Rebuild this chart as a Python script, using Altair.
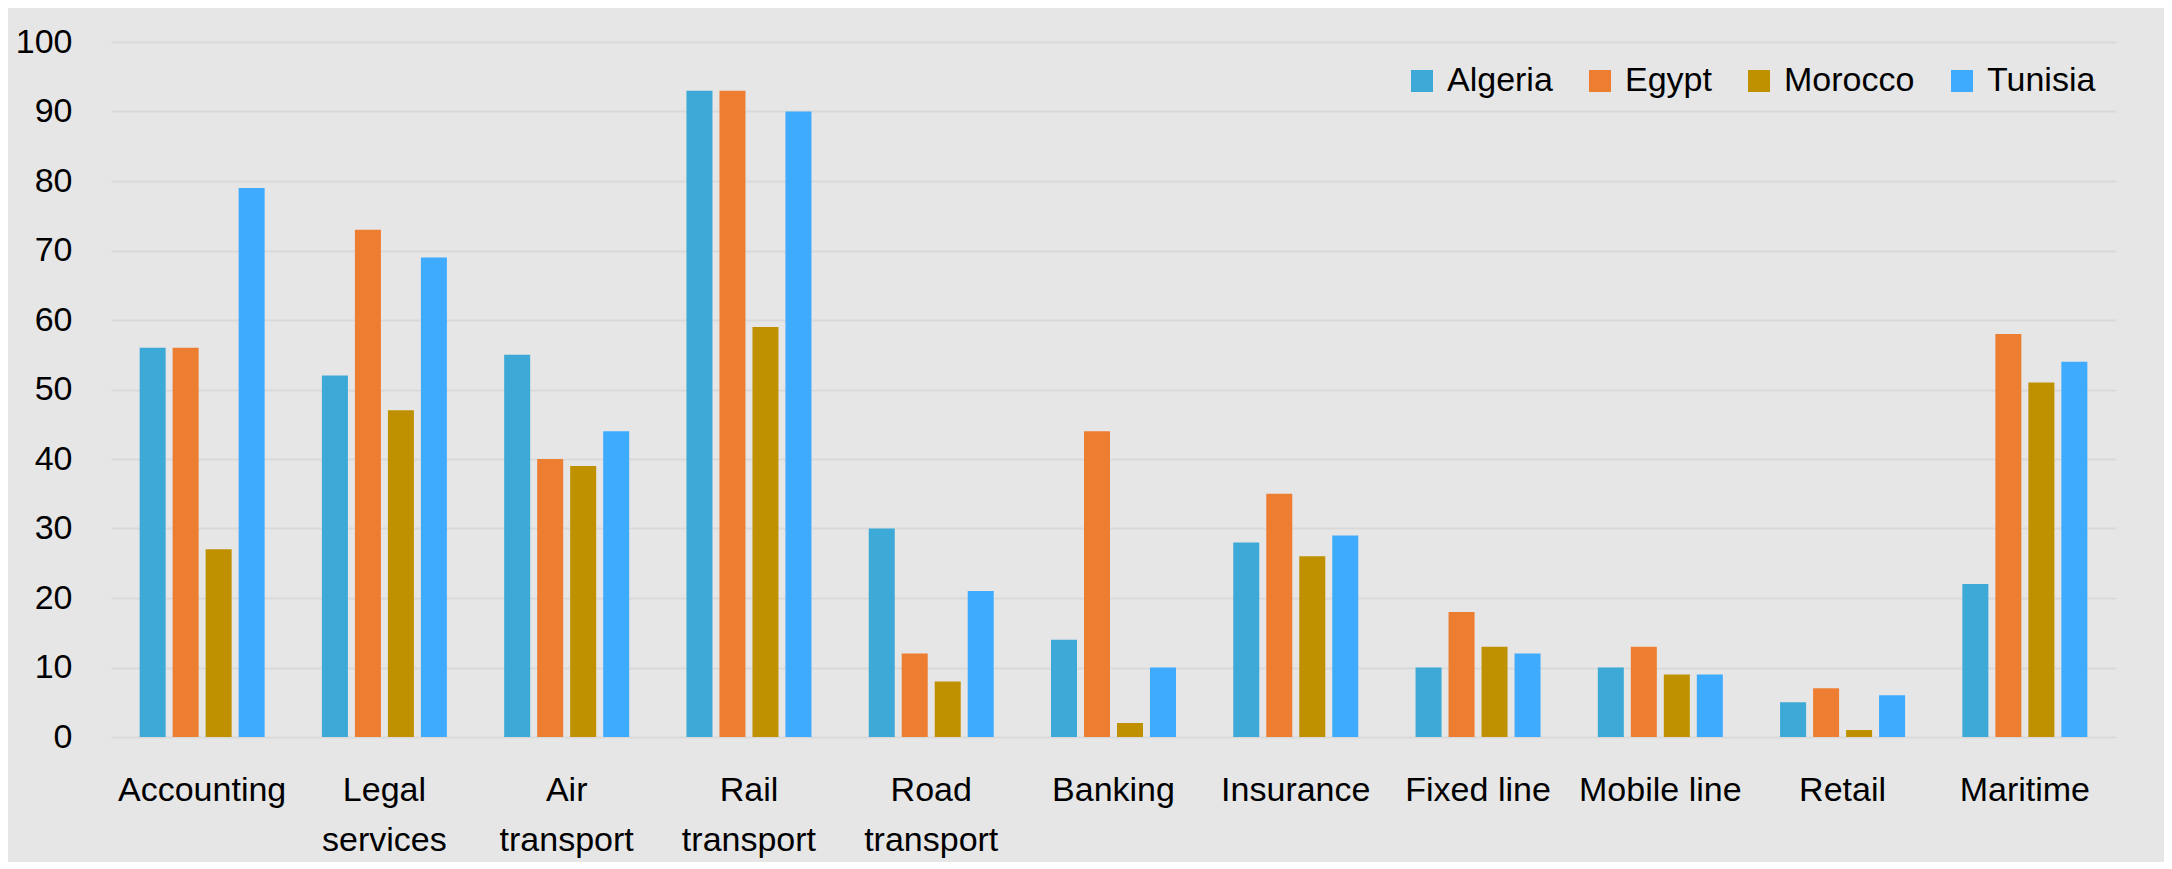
import altair as alt
import pandas as pd

categories = ["Accounting", "Legal services", "Air transport", "Rail transport",
              "Road transport", "Banking", "Insurance", "Fixed line",
              "Mobile line", "Retail", "Maritime"]
countries = ["Algeria", "Egypt", "Morocco", "Tunisia"]
algeria = [56, 52, 55, 93, 30, 14, 28, 10, 10, 5, 22]
egypt = [56, 73, 40, 93, 12, 44, 35, 18, 13, 7, 58]
morocco = [27, 47, 39, 59, 8, 2, 26, 13, 9, 1, 51]
tunisia = [79, 69, 44, 90, 21, 10, 29, 12, 9, 6, 54]
colors = ["#3ca9d7", "#ed7d31", "#bf9000", "#3fabff"]

rows = []
for name, vals in zip(countries, [algeria, egypt, morocco, tunisia]):
    for c, v in zip(categories, vals):
        rows.append({"Sector": c, "Country": name, "Value": v})
df = pd.DataFrame(rows)

FONT = "Liberation Sans"

chart = alt.Chart(df).mark_bar().encode(
    x=alt.X("Sector:N", sort=categories,
            scale=alt.Scale(paddingInner=0, paddingOuter=0),
            axis=alt.Axis(title=None, labelAngle=0, ticks=False, domain=False,
                          labelFontSize=34, labelFont=FONT, labelColor="#000000",
                          labelPadding=36, labelLineHeight=50, labelBaseline="top",
                          labelExpr="datum.value == 'Fixed line' || datum.value == 'Mobile line' ? datum.value : split(datum.value, ' ')")),
    xOffset=alt.XOffset("Country:N", sort=countries,
                        scale=alt.Scale(paddingInner=0.212, paddingOuter=0.868)),
    y=alt.Y("Value:Q", scale=alt.Scale(domain=[0, 100], nice=False),
            axis=alt.Axis(title=None, values=list(range(0, 101, 10)), ticks=False,
                          domain=False, labelFontSize=34, labelFont=FONT,
                          labelColor="#000000", labelPadding=39,
                          gridColor="#d9d9d9", gridWidth=2)),
    color=alt.Color("Country:N", sort=countries,
                    scale=alt.Scale(domain=countries, range=colors),
                    legend=alt.Legend(title=None, orient="none", direction="horizontal",
                                      columns=4, legendX=1294, legendY=22,
                                      symbolType="square", symbolSize=484,
                                      symbolStrokeWidth=0, labelFontSize=34,
                                      labelFont=FONT, labelColor="#000000",
                                      labelOffset=8, columnPadding=30)),
).properties(
    width=2005, height=695,
    autosize=alt.AutoSizeParams(type="none"),
    padding={"left": 103, "top": 34, "right": 48, "bottom": 125},
    background="#e6e6e6",
).configure_view(stroke=None)

chart.save("out.html", embed_options={"renderer": "svg", "actions": False})
